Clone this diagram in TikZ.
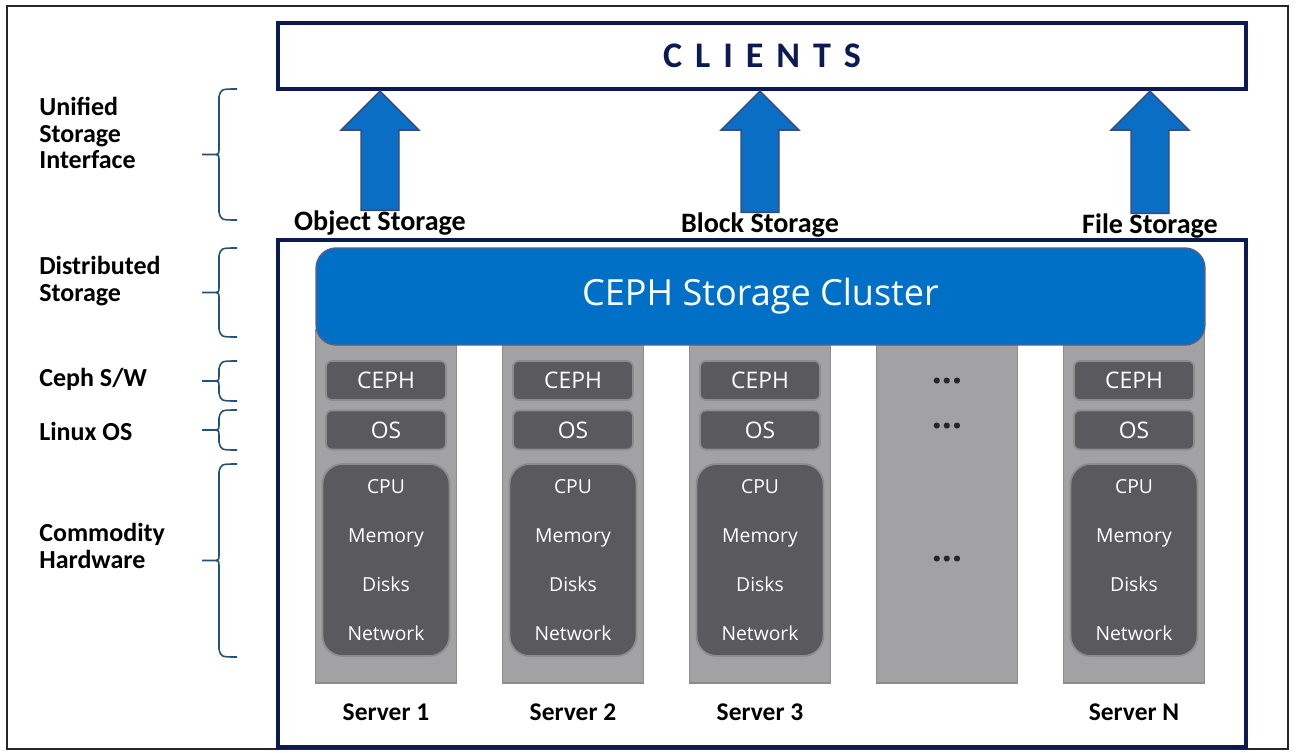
\documentclass[tikz,border=0pt]{standalone}
\usepackage{fontspec}
\setmainfont{Carlito}
\newfontfamily\winfont{Open Sans}
\newfontfamily\spacedfont[LetterSpace=36]{Carlito}
\usepackage{tikz}
\usetikzlibrary{calc}
\definecolor{cephnavy}{HTML}{0B1A52}
\definecolor{cephblue}{HTML}{0070C6}
\definecolor{arrowblue}{HTML}{0A6FC4}
\definecolor{colgray}{HTML}{A2A2A4}
\definecolor{boxgray}{HTML}{5A595E}
\definecolor{bracecol}{HTML}{24507E}
\tikzset{x=0.02cm,y=-0.02cm,
  frame/.style={draw=black!85,line width=1.1pt},
  clientsbox/.style={draw=cephnavy,line width=2.5pt,minimum width=19.36cm,minimum height=1.32cm,
    text=cephnavy,font=\spacedfont\bfseries\fontsize{20.5}{24}\selectfont},
  lowerbox/.style={draw=cephnavy,line width=2.5pt,minimum width=19.36cm,minimum height=10.14cm},
  cluster/.style={draw=cephnavy!70,fill=cephblue,line width=0.8pt,rounded corners=0.4cm,
    minimum width=17.78cm,minimum height=1.94cm,text=white,font=\winfont\fontsize{20.5}{24}\selectfont},
  column/.style={draw=black!45,fill=colgray,line width=0.8pt,minimum width=2.82cm,minimum height=7.06cm},
  swbox/.style={draw=black!45,fill=boxgray,line width=1pt,rounded corners=0.12cm,inner sep=0pt,
    minimum width=2.4cm,minimum height=0.78cm,text=white,font=\winfont\fontsize{13}{15}\selectfont},
  hwbox/.style={draw=black!45,fill=boxgray,line width=1pt,rounded corners=0.4cm,inner sep=0pt,
    minimum width=2.54cm,minimum height=3.84cm,align=center,text=white,font=\winfont\fontsize{11}{28}\selectfont},
  dots/.style={font=\winfont\bfseries\fontsize{20}{22}\selectfont,text=black!85,inner sep=0pt},
  srvlabel/.style={font=\bfseries\fontsize{14.5}{17}\selectfont,inner sep=0pt},
  storelabel/.style={font=\bfseries\fontsize{16}{19}\selectfont,inner sep=0pt},
  layerlabel/.style={anchor=west,align=left,inner sep=0pt,font=\bfseries\fontsize{14.8}{15.3}\selectfont},
  bracket/.style={draw=bracecol,line width=0.9pt},
  bigarrow/.style={fill=arrowblue,draw=cephnavy!80,line width=0.8pt,line join=miter}
}
\newcommand\upar[1]{%
  \filldraw[bigarrow] ($(#1.north)+(-19,0)$) -- ($(#1.north |- clients.south)+(-19,39)$)
    -- ($(#1.north |- clients.south)+(-39,39)$) -- (#1.north |- clients.south)
    -- ($(#1.north |- clients.south)+(39,39)$) -- ($(#1.north |- clients.south)+(19,39)$)
    -- ($(#1.north)+(19,0)$) -- cycle;}
\newcommand\layerbrace[2]{%
  \pgfmathsetmacro\bmid{(#1+#2)/2}
  \draw[bracket] (237,#1) .. controls (221,#1) .. (219,#1+8) -- (219,\bmid-5)
    .. controls (219,\bmid) .. (211,\bmid) -- (202,\bmid)
    (211,\bmid) .. controls (219,\bmid) .. (219,\bmid+5) -- (219,#2-8)
    .. controls (221,#2) .. (237,#2);}
\begin{document}
\begin{tikzpicture}
    \useasboundingbox (0,0) rectangle (1296,753);
    \draw[frame] (7,6) rectangle (1288,749);
    \node[clientsbox] (clients) at (762,56) {CLIENTS};
    \node[lowerbox] (stack) at (762,493.5) {};

    \foreach \x/\n in {386/1,573/2,760/3,1134/N}{
        \node[column] (col\n) at (\x,506.5) {};
        \node[swbox] (ceph\n) at (\x,380.5) {CEPH};
        \node[swbox] (os\n) at (\x,430) {OS};
        \node[hwbox] (hw\n) at (\x,560) {CPU\\Memory\\Disks\\Network};
        \node[srvlabel] (srv\n) at (\x,712) {Server \n};
    }
    \node[column] (coldots) at (947,506.5) {};
    \node[dots] (dotsa) at (947,381) {...};
    \node[dots] (dotsb) at (947,426) {...};
    \node[dots] (dotsc) at (947,559) {...};
    \node[cluster] (cluster) at (760.5,296.5) {CEPH Storage Cluster};

    \node[storelabel] (object) at (380,223) {Object Storage};
    \node[storelabel] (block) at (760,225) {Block Storage};
    \node[storelabel] (file) at (1150,226) {File Storage};
    \upar{object}
    \upar{block}
    \upar{file}

    \node[layerlabel] (unified) at (39,133) {Unified\\Storage\\Interface};
    \node[layerlabel] (distrib) at (39,281) {Distributed\\Storage};
    \node[layerlabel] (cephsw) at (39,379) {Ceph S/W};
    \node[layerlabel] (linux) at (39,431) {Linux OS};
    \node[layerlabel] (hardware) at (39,546) {Commodity\\Hardware};
    \layerbrace{89}{220}
    \layerbrace{248}{337}
    \layerbrace{361}{401}
    \layerbrace{410}{450}
    \layerbrace{464}{657}
\end{tikzpicture}
\end{document}
